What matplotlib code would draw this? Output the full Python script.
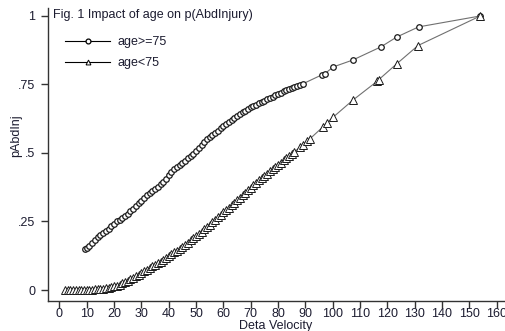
import matplotlib
matplotlib.use("Agg")
import matplotlib.pyplot as plt
from matplotlib import font_manager

# ---- data ----
old_x = [9.5, 10, 11, 12, 13, 14, 15, 16, 17, 18, 19, 20, 21, 22, 23, 24, 25, 26, 27, 28, 29,
         30, 31, 32, 33, 34, 35, 36, 37, 38, 39, 40, 41, 42, 43, 44, 45, 46, 47, 48, 49,
         50, 51, 52, 53, 54, 55, 56, 57, 58, 59, 60, 61, 62, 63, 64, 65, 66, 67, 68, 69,
         70, 71, 72, 73, 74, 75, 76, 77, 78, 79, 80, 81, 82, 83, 84, 85, 86, 87, 88, 89,
         96, 97.2, 100.2, 107.3, 117.6, 123.4, 131.4, 154]
old_y = [0.148, 0.152, 0.162, 0.172, 0.182, 0.192, 0.200, 0.208, 0.214, 0.222, 0.232, 0.242,
         0.250, 0.256, 0.262, 0.270, 0.279, 0.288, 0.297, 0.306, 0.316,
         0.326, 0.336, 0.345, 0.354, 0.362, 0.369, 0.376, 0.385, 0.395, 0.406,
         0.418, 0.430, 0.440, 0.449, 0.457, 0.465, 0.472, 0.480, 0.489, 0.498,
         0.508, 0.518, 0.529, 0.540, 0.550, 0.559, 0.567, 0.574, 0.582, 0.590,
         0.598, 0.606, 0.614, 0.621, 0.628, 0.635, 0.642, 0.648, 0.654, 0.660,
         0.666, 0.671, 0.676, 0.681, 0.686, 0.691, 0.696, 0.701, 0.706, 0.711,
         0.716, 0.720, 0.725, 0.729, 0.734, 0.738, 0.742, 0.745, 0.749, 0.752,
         0.785, 0.790, 0.814, 0.839, 0.887, 0.923, 0.960, 1.000]

young_x = [2, 3, 4, 5, 6, 7, 8, 9, 10, 11, 12, 13, 14, 15, 16, 17, 18, 19,
           20, 21, 22, 23, 24, 25, 26, 27, 28, 29, 30, 31, 32, 33, 34, 35, 36, 37, 38, 39,
           40, 41, 42, 43, 44, 45, 46, 47, 48, 49, 50, 51, 52, 53, 54, 55, 56, 57, 58, 59,
           60, 61, 62, 63, 64, 65, 66, 67, 68, 69, 70, 71, 72, 73, 74, 75, 76, 77, 78, 79,
           80, 81, 82, 83, 84, 85, 86, 88, 89.2, 90.5, 91.7, 96.4, 97.9, 100.2,
           107.4, 116.3, 116.9, 123.5, 131.2, 154]
young_y = [0.000, 0.000, 0.000, 0.000, 0.000, 0.000, 0.000, 0.000, 0.000, 0.001, 0.001,
           0.002, 0.002, 0.003, 0.004, 0.006, 0.008, 0.010,
           0.013, 0.016, 0.020, 0.024, 0.029, 0.034, 0.039, 0.045, 0.050, 0.056,
           0.062, 0.068, 0.074, 0.080, 0.086, 0.092, 0.098, 0.104, 0.110, 0.117,
           0.123, 0.130, 0.137, 0.144, 0.151, 0.158, 0.166, 0.173, 0.181, 0.189,
           0.197, 0.205, 0.213, 0.221, 0.229, 0.238, 0.247, 0.256, 0.265, 0.274,
           0.283, 0.292, 0.301, 0.310, 0.319, 0.328, 0.337, 0.346, 0.355, 0.364,
           0.373, 0.382, 0.391, 0.400, 0.409, 0.417, 0.425, 0.433, 0.441, 0.449,
           0.457, 0.465, 0.473, 0.481, 0.489, 0.497, 0.505, 0.520, 0.530, 0.542,
           0.552, 0.595, 0.610, 0.631, 0.693, 0.762, 0.768, 0.826, 0.892, 1.000]

x_ticks = list(range(0, 161, 10))
y_ticks = [0, 0.25, 0.5, 0.75, 1]
y_ticklabels = ["0", ".25", ".5", ".75", "1"]
labels = ["age>=75", "age<75"]
title = "Fig. 1 Impact of age on p(AbdInjury)"
xlabel = "Deta Velocity"
ylabel = "pAbdInj"

# ---- styling ----
names = {f.name for f in font_manager.fontManager.ttflist}
fam = ["Liberation Sans Narrow", "Liberation Sans", "DejaVu Sans"]
fam = [f for f in fam if f in names] or ["DejaVu Sans"]
plt.rcParams["font.family"] = fam
txt = "#1c1c30"

W, H = 506, 331
fig = plt.figure(figsize=(W / 100, H / 100), dpi=100)
ax = fig.add_axes([48 / W, 1 - 300.7 / H, (W - 48) / W, (300.7 - 8) / H])

ax.plot(old_x, old_y, color="#707070", lw=0.8, marker="o", ms=4.0,
        mfc="white", mec="#1a1a1a", mew=0.9, label=labels[0])
ax.plot(young_x, young_y, color="#707070", lw=0.8, marker="^", ms=5.2,
        mfc="white", mec="#1a1a1a", mew=0.7, label=labels[1])

ax.set_xlim(-4.17, 163.4)
ax.set_ylim(-0.039, 1.029)
ax.set_xticks(x_ticks)
ax.set_yticks(y_ticks)
ax.set_yticklabels(y_ticklabels)
ax.spines["top"].set_visible(False)
ax.spines["right"].set_visible(False)
for s in ("left", "bottom"):
    ax.spines[s].set_color("#333333")
    ax.spines[s].set_linewidth(1.0)
ax.tick_params(axis="both", direction="out", length=5, width=1.0, color="#333333",
               labelsize=9, labelcolor=txt)
ax.tick_params(axis="x", pad=0.5)
ax.tick_params(axis="y", pad=4)

leg = ax.legend(loc="upper left", bbox_to_anchor=(65 / W, 1 - 36 / H),
                bbox_transform=fig.transFigure, frameon=False, fontsize=9,
                handlelength=3.6, handletextpad=0.6, labelspacing=0.75,
                borderpad=0, borderaxespad=0)
for t in leg.get_texts():
    t.set_color(txt)
for h in leg.legend_handles:
    h.set_color("#000000")
    h.set_markeredgecolor("#000000")
    h.set_markersize(3.5)

fig.text(53 / W, 1 - 15 / H, title, fontsize=9, color=txt, va="center", ha="left")
fig.text(16 / W, 1 - 136 / H, ylabel, fontsize=9, color=txt, rotation=90,
         va="center", ha="center")
fig.text(276 / W, 1 - 325.5 / H, xlabel, fontsize=9, color=txt, va="center", ha="center")

fig.savefig("out.png", dpi=100)
